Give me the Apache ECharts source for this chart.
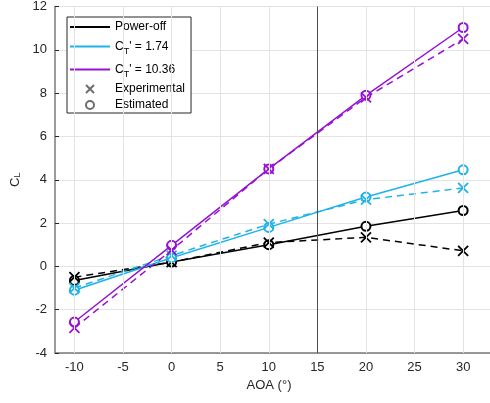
<!DOCTYPE html>
<html>
<head>
<meta charset="utf-8">
<script src="https://cdn.jsdelivr.net/npm/echarts@6/dist/echarts.min.js"></script>
<style>html,body{margin:0;padding:0;background:#fff;overflow:hidden;}#c{width:502px;height:403px;}</style>
</head>
<body>
<div id="c"></div>
<script>
const aoa = [-10, 0, 10, 20, 30];
const powerOffEst = [-0.65, 0.2, 1.0, 1.85, 2.58];
const powerOffExp = [-0.5, 0.2, 1.1, 1.34, 0.72];
const ct174Est = [-1.1, 0.4, 1.8, 3.2, 4.46];
const ct174Exp = [-1.0, 0.5, 1.95, 3.08, 3.62];
const ct1036Est = [-2.57, 0.97, 4.5, 7.9, 11.03];
const ct1036Exp = [-2.84, 0.75, 4.5, 7.8, 10.5];
const xTicks = [-10, -5, 0, 5, 10, 15, 20, 25, 30];
const yTicks = [-4, -2, 0, 2, 4, 6, 8, 10, 12];
const vLineX = 15;

const BLACK = '#000000', CYAN = '#1eb3e8', PURPLE = '#9612d2', GRAY = '#6e6e6e';
const FONT = 'Liberation Sans, Arial, Helvetica, sans-serif';
const CROSS = 'path://M0,0L10,10M10,0L0,10';

function pairs(ys) { return aoa.map((x, i) => [x, ys[i]]); }

function estSeries(name, ys, color) {
  return {
    name: name, type: 'line', data: pairs(ys), color: color,
    lineStyle: {color: color, width: 1.5, type: 'solid'},
    symbol: 'emptyCircle', symbolSize: 9,
    itemStyle: {color: color, borderColor: color, borderWidth: 1.5},
    showAllSymbol: true, z: 3
  };
}
function expSeries(name, ys, color) {
  return {
    name: name, type: 'line', data: pairs(ys), color: color,
    lineStyle: {color: color, width: 1.5, type: [7, 5]},
    symbol: CROSS, symbolSize: 10,
    itemStyle: {color: color, borderColor: color, borderWidth: 1.8},
    showAllSymbol: true, z: 3
  };
}

const series = [
  {
    name: 'xgrid', type: 'line', data: [], silent: true, z: 1,
    markLine: {
      silent: true, symbol: 'none', animation: false,
      label: {show: false},
      lineStyle: {color: '#e3e3e3', width: 1, type: 'solid'},
      data: xTicks.map(v => ({xAxis: v}))
    }
  },
  estSeries('Power-off', powerOffEst, BLACK),
  expSeries('Power-off exp', powerOffExp, BLACK),
  estSeries('CT1', ct174Est, CYAN),
  expSeries('CT1 exp', ct174Exp, CYAN),
  estSeries('CT2', ct1036Est, PURPLE),
  expSeries('CT2 exp', ct1036Exp, PURPLE),
  {name: 'Experimental', type: 'line', data: [], color: GRAY},
  {name: 'Estimated', type: 'line', data: [], color: GRAY},
  {
    name: 'vline', type: 'line', data: [], silent: true, z: 2,
    markLine: {
      silent: true, symbol: 'none', animation: false,
      label: {show: false},
      lineStyle: {color: '#4d4d4d', width: 1, type: 'solid'},
      data: [{xAxis: vLineX}]
    }
  }
];

const LINE_ICON = 'path://M0,0H40V2H0Z';

const chart = echarts.init(document.getElementById('c'), null, {renderer: 'canvas'});
chart.setOption({
  animation: false,
  backgroundColor: '#ffffff',
  textStyle: {fontFamily: FONT},
  grid: {left: 55, right: 0, top: 6, bottom: 50, containLabel: false},
  xAxis: {
    type: 'value', min: -12, max: 34,
    name: 'AOA (°)', nameLocation: 'middle', nameGap: 25,
    nameTextStyle: {fontFamily: FONT, fontSize: 13, color: '#262626', padding: [0, 19, 0, 0]},
    axisLine: {show: true, onZero: false, lineStyle: {color: '#7a7a7a', width: 1.5}},
    axisTick: {show: true, inside: true, length: 4, customValues: xTicks, lineStyle: {color: '#262626'}},
    axisLabel: {fontFamily: FONT, fontSize: 13, color: '#262626', margin: 8, customValues: xTicks},
    splitLine: {show: false}
  },
  yAxis: {
    type: 'value', min: -4, max: 12, interval: 2,
    name: 'C{sub|L}', nameLocation: 'middle', nameGap: 26, nameRotate: 90,
    nameTextStyle: {
      fontFamily: FONT, fontSize: 13, color: '#262626',
      rich: {sub: {fontFamily: FONT, fontSize: 9, color: '#262626', verticalAlign: 'bottom', lineHeight: 9}}
    },
    axisLine: {show: true, onZero: false, lineStyle: {color: '#7a7a7a', width: 1.5}},
    axisTick: {show: true, inside: true, length: 4, lineStyle: {color: '#262626'}},
    axisLabel: {
      fontFamily: FONT, fontSize: 13, color: '#262626', margin: 8,
      formatter: v => (yTicks.indexOf(v) >= 0 ? String(v) : '')
    },
    splitLine: {show: true, lineStyle: {color: '#e3e3e3', width: 1}}
  },
  legend: {
    orient: 'vertical', left: 67, top: 17,
    backgroundColor: '#ffffff', borderColor: '#262626', borderWidth: 1,
    padding: [4, 6, 2, 3], itemGap: 4, itemWidth: 40, itemHeight: 8,
    symbolKeepAspect: true,
    textStyle: {
      fontFamily: FONT, fontSize: 12, color: '#000', lineHeight: 12,
      rich: {
        n: {fontFamily: FONT, fontSize: 12, color: '#000', lineHeight: 19},
        sub: {fontFamily: FONT, fontSize: 9, color: '#000', verticalAlign: 'bottom', lineHeight: 9}
      }
    },
    formatter: function (name) {
      if (name === 'CT1') return "{n|C}{sub|T}{n|' = 1.74}";
      if (name === 'CT2') return "{n|C}{sub|T}{n|' = 10.36}";
      return name;
    },
    data: [
      {name: 'Power-off', icon: LINE_ICON, itemStyle: {color: BLACK, borderWidth: 0}},
      {name: 'CT1', icon: LINE_ICON, itemStyle: {color: CYAN, borderWidth: 0}},
      {name: 'CT2', icon: LINE_ICON, itemStyle: {color: PURPLE, borderWidth: 0}},
      {name: 'Experimental', icon: CROSS, itemStyle: {color: GRAY, borderColor: GRAY, borderWidth: 2}},
      {name: 'Estimated', icon: 'emptyCircle', itemStyle: {color: GRAY, borderColor: GRAY, borderWidth: 1.5}}
    ]
  },
  series: series
});
</script>
</body>
</html>
